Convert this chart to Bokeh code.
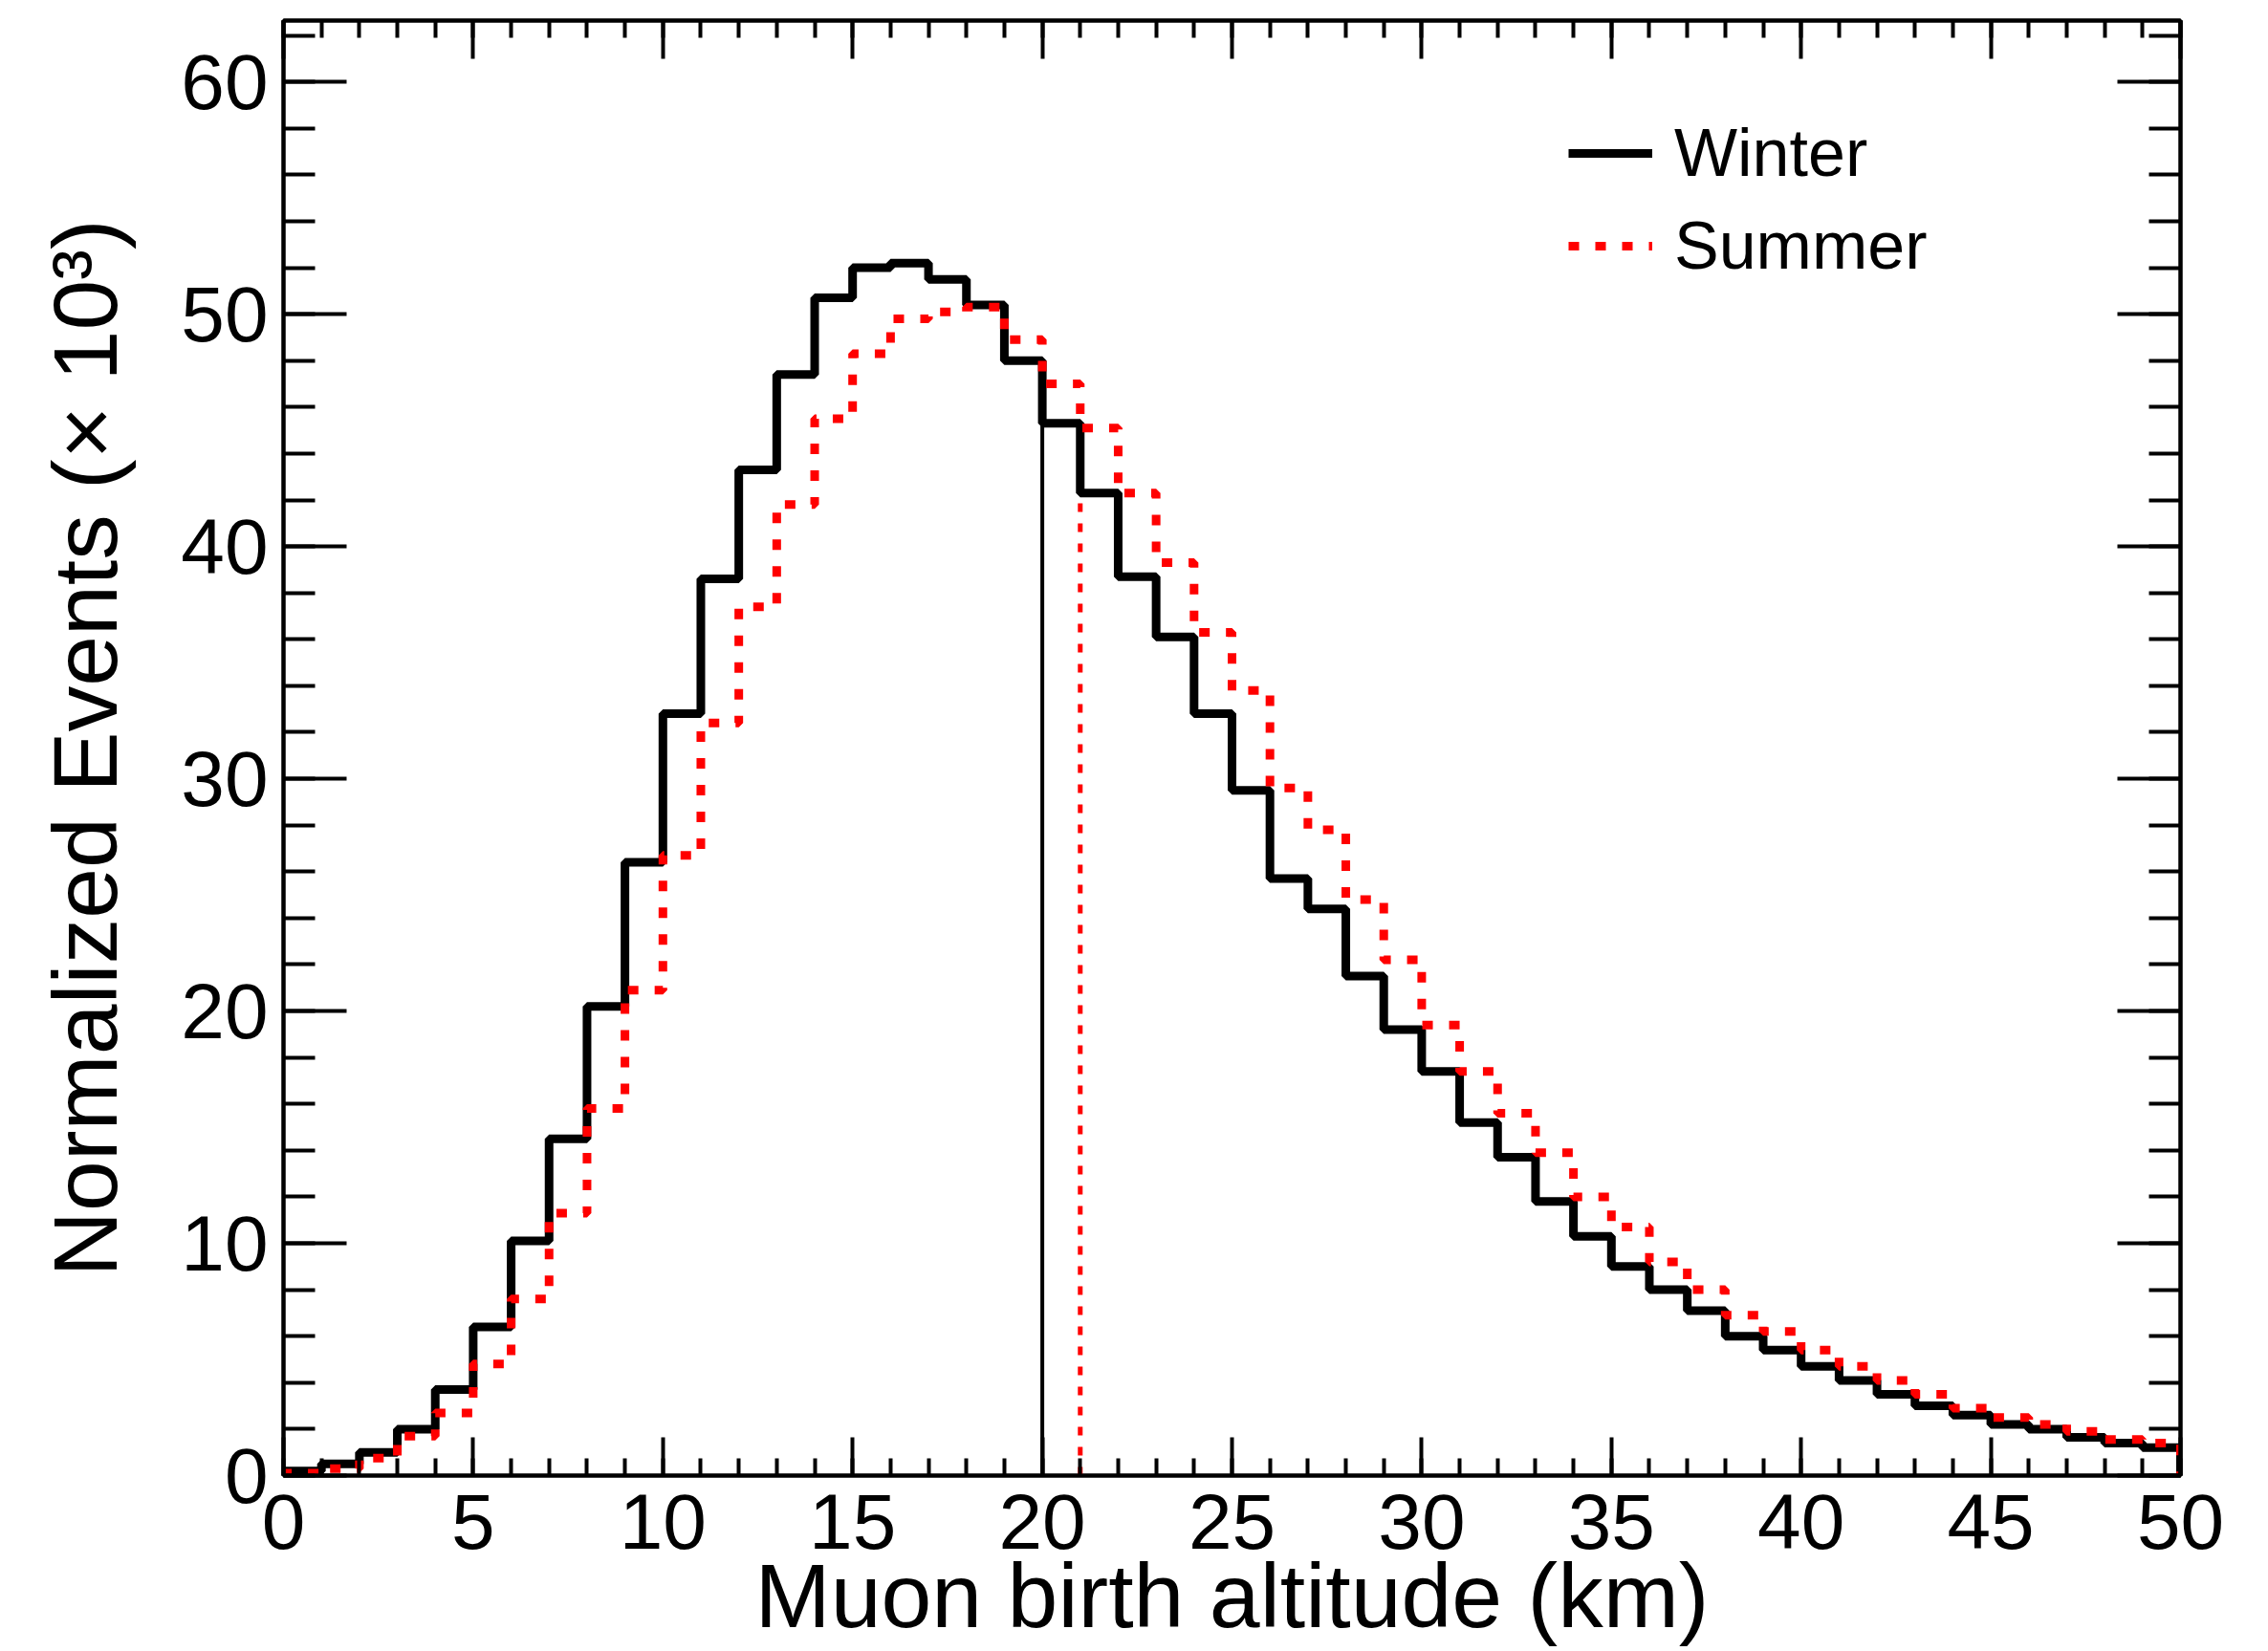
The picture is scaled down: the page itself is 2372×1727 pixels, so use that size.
import numpy as np
from bokeh.plotting import figure
from bokeh.models import LinearAxis, FixedTicker, Legend, LegendItem, Range1d
from bokeh.embed import file_html
from bokeh.resources import INLINE

# ---- data ----
bin_edges = list(range(0, 51))  # km, 1 km bins
winter = [0.2, 0.5, 1.0, 2.0, 3.7, 6.4, 10.1, 14.5, 20.2, 26.4,
          32.8, 38.6, 43.3, 47.4, 50.7, 52.0, 52.2, 51.5, 50.4, 48.0,
          45.3, 42.3, 38.7, 36.1, 32.8, 29.5, 25.7, 24.4, 21.5, 19.2,
          17.4, 15.2, 13.7, 11.8, 10.3, 9.0, 8.0, 7.1, 6.0, 5.4,
          4.7, 4.1, 3.5, 3.0, 2.6, 2.2, 2.0, 1.65, 1.4, 1.2]
summer = [0.1, 0.3, 0.75, 1.7, 2.7, 4.8, 7.6, 11.3, 15.8, 20.9,
          26.7, 32.4, 37.4, 41.8, 45.5, 48.3, 49.8, 50.1, 50.3, 48.9,
          47.0, 45.1, 42.3, 39.3, 36.3, 33.8, 29.6, 27.8, 24.8, 22.2,
          19.4, 17.4, 15.6, 13.9, 12.0, 10.7, 9.2, 8.0, 6.9, 6.2,
          5.4, 4.7, 4.1, 3.5, 2.9, 2.5, 2.2, 1.9, 1.55, 1.4]
winter_median = 20.0
summer_median = 21.0
series_labels = ["Winter", "Summer"]
x_ticks = [0, 5, 10, 15, 20, 25, 30, 35, 40, 45, 50]
y_ticks = [0, 10, 20, 30, 40, 50, 60]
x_title = "Muon birth altitude (km)"
y_title = "Normalized Events (\u00d7 10\u00b3)"

FONT = "Liberation Sans"


def step_xy(edges, vals):
    e = np.asarray(edges, dtype=float)
    v = np.asarray(vals, dtype=float)
    xs = np.concatenate([[e[0]], np.repeat(e, 2)[1:-1], [e[-1]]])
    ys = np.concatenate([[0.0], np.repeat(v, 2), [0.0]])
    return xs, ys


def bin_value(edges, vals, x):
    i = int(np.searchsorted(np.asarray(edges, dtype=float), x, side="right")) - 1
    return vals[i]


p = figure(frame_width=1984, frame_height=1522,
           x_range=Range1d(0, 50), y_range=Range1d(0, 1.2 * max(winter)),
           output_backend="svg", toolbar_location=None,
           min_border_left=296, min_border_right=76,
           min_border_top=21, min_border_bottom=168,
           background_fill_color="white", border_fill_color="white",
           outline_line_color="black", outline_line_width=4)
p.grid.visible = False

x_minor = list(range(0, 51))
y_minor = list(range(0, 63, 2))


def style_common(ax):
    ax.major_tick_out = 0
    ax.minor_tick_out = 0
    ax.major_tick_line_width = 4
    ax.minor_tick_line_width = 4
    ax.major_tick_line_color = "black"
    ax.minor_tick_line_color = "black"
    ax.axis_line_width = 4
    ax.axis_line_color = "black"
    ax.major_label_text_font = FONT
    ax.major_label_text_color = "black"


def style_x(ax, labels=True):
    ax.ticker = FixedTicker(ticks=x_ticks, minor_ticks=x_minor)
    style_common(ax)
    ax.major_tick_in = 40
    ax.minor_tick_in = 18
    if labels:
        ax.major_label_text_font_size = "82px"
        ax.major_label_standoff = 19
    else:
        ax.major_label_overrides = {t: "" for t in x_ticks}
        ax.major_label_text_font_size = "1px"
        ax.major_label_standoff = 0


def style_y(ax, labels=True):
    ax.ticker = FixedTicker(ticks=y_ticks, minor_ticks=y_minor)
    style_common(ax)
    ax.major_tick_in = 66
    ax.minor_tick_in = 33
    if labels:
        ax.major_label_text_font_size = "82px"
        ax.major_label_standoff = 16
    else:
        ax.major_label_overrides = {t: "" for t in y_ticks}
        ax.major_label_text_font_size = "1px"
        ax.major_label_standoff = 0


xa = p.xaxis[0]
style_x(xa)
xa.axis_label = x_title
xa.axis_label_text_font = FONT
xa.axis_label_text_font_size = "95px"
xa.axis_label_text_font_style = "normal"
xa.axis_label_text_color = "black"
xa.axis_label_standoff = -7

ya = p.yaxis[0]
style_y(ya)
ya.axis_label = y_title
ya.axis_label_text_font = FONT
ya.axis_label_text_font_size = "95px"
ya.axis_label_text_font_style = "normal"
ya.axis_label_text_color = "black"
ya.axis_label_standoff = 44

top_ax = LinearAxis()
style_x(top_ax, labels=False)
p.add_layout(top_ax, "above")
right_ax = LinearAxis()
style_y(right_ax, labels=False)
p.add_layout(right_ax, "right")

# median markers
wm_top = bin_value(bin_edges, winter, winter_median)
sm_top = bin_value(bin_edges, summer, summer_median)
p.segment(x0=[winter_median], y0=[0], x1=[winter_median], y1=[wm_top],
          line_color="black", line_width=4)
p.segment(x0=[summer_median], y0=[0], x1=[summer_median], y1=[sm_top],
          line_color="red", line_width=5, line_dash="9 12")

xw, yw = step_xy(bin_edges, winter)
xs, ys = step_xy(bin_edges, summer)
r_w = p.line(xw, yw, line_color="black", line_width=9)
r_s = p.line(xs, ys, line_color="red", line_width=9, line_dash="11 17")

legend = Legend(items=[LegendItem(label=series_labels[0], renderers=[r_w]),
                       LegendItem(label=series_labels[1], renderers=[r_s])],
                location=(1344, 1246), glyph_width=88, glyph_height=80,
                label_height=80, label_standoff=23, spacing=17,
                padding=0, margin=0, border_line_alpha=0,
                background_fill_alpha=0, label_text_font=FONT,
                label_text_color="black",
                label_text_font_size="70px")
p.add_layout(legend)

open("out.html", "w").write(file_html(p, INLINE))
